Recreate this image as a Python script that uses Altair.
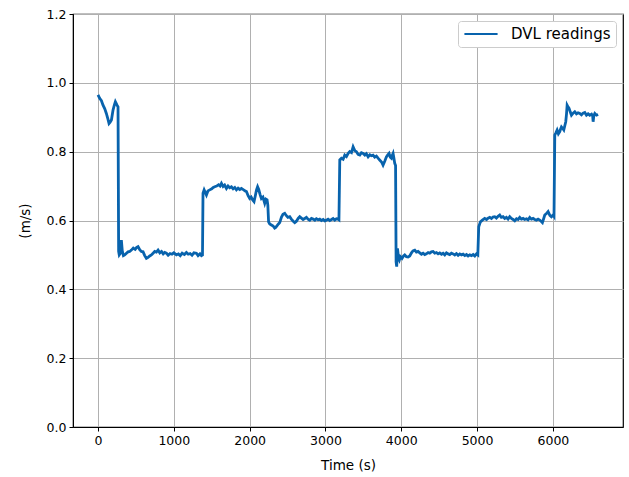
import altair as alt
import pandas as pd

# DVL speed log, split into the constant-speed legs of the run.
# Times in seconds, speeds in m/s.
leg1_t = [0, 22, 45, 66, 88, 110, 130, 145, 160, 177, 198, 215, 229, 251, 264]
leg1_v = [0.965, 0.955, 0.948, 0.935, 0.925, 0.911, 0.895, 0.882, 0.886, 0.892,
          0.921, 0.935, 0.945, 0.935, 0.930]

leg2_t = [272, 280, 295, 308, 320, 335, 352, 375, 396, 418,
          440, 465, 490, 510, 528, 550, 572, 594, 616, 638,
          660, 682, 704, 726, 748, 770, 792, 815, 838, 860,
          880, 902, 925, 950, 975, 1000, 1034, 1060, 1085, 1110,
          1140, 1166, 1190, 1215, 1240, 1265, 1298, 1320, 1345, 1364,
          1378]
leg2_v = [0.510, 0.500, 0.505, 0.543, 0.512, 0.498, 0.500, 0.505, 0.509, 0.510,
          0.514, 0.520, 0.516, 0.522, 0.524, 0.515, 0.510, 0.509, 0.498, 0.490,
          0.493, 0.497, 0.500, 0.505, 0.510, 0.508, 0.514, 0.506, 0.510, 0.503,
          0.507, 0.505, 0.499, 0.504, 0.502, 0.506, 0.500, 0.503, 0.498, 0.505,
          0.501, 0.507, 0.502, 0.504, 0.499, 0.506, 0.505, 0.498, 0.503, 0.498,
          0.500]

leg3_t = [1385, 1400, 1430, 1450, 1474, 1500, 1520, 1540, 1565, 1590,
          1610, 1628, 1650, 1670, 1694, 1715, 1737, 1760, 1782, 1804,
          1826, 1848, 1870, 1892, 1915, 1937, 1958, 1980, 2001, 2020,
          2040, 2058, 2075, 2090, 2105, 2120, 2137, 2155, 2175, 2199,
          2215, 2230, 2240]
leg3_v = [0.679, 0.689, 0.674, 0.686, 0.689, 0.692, 0.696, 0.698, 0.700, 0.704,
          0.700, 0.708, 0.699, 0.703, 0.693, 0.700, 0.695, 0.698, 0.692, 0.696,
          0.689, 0.694, 0.690, 0.693, 0.690, 0.686, 0.684, 0.672, 0.664, 0.668,
          0.660, 0.655, 0.672, 0.688, 0.698, 0.690, 0.676, 0.664, 0.668, 0.650,
          0.662, 0.660, 0.645]

leg4_t = [2250, 2265, 2287, 2310, 2330, 2344, 2365, 2380, 2397, 2420,
          2440, 2463, 2485, 2505, 2529, 2550, 2575, 2595, 2617, 2640,
          2661, 2683, 2705, 2727, 2749, 2770, 2793, 2815, 2837, 2860,
          2880, 2903, 2925, 2947, 2970, 2990, 3013, 3035, 3057, 3080,
          3101, 3123, 3145, 3166, 3178]
leg4_v = [0.596, 0.590, 0.587, 0.584, 0.578, 0.580, 0.586, 0.590, 0.594, 0.610,
          0.618, 0.621, 0.614, 0.609, 0.611, 0.604, 0.598, 0.594, 0.598, 0.606,
          0.611, 0.607, 0.603, 0.606, 0.609, 0.604, 0.601, 0.606, 0.604, 0.601,
          0.605, 0.602, 0.604, 0.600, 0.603, 0.599, 0.601, 0.604, 0.600, 0.603,
          0.606, 0.601, 0.605, 0.604, 0.602]

leg5_t = [3189, 3211, 3233, 3255, 3277, 3300, 3321, 3343, 3365, 3387,
          3409, 3431, 3453, 3475, 3497, 3520, 3540, 3563, 3585, 3606,
          3628, 3650, 3672, 3694, 3715, 3740, 3760, 3782, 3804, 3820,
          3839, 3855, 3870, 3882, 3892, 3904, 3914, 3925]
leg5_v = [0.776, 0.781, 0.778, 0.790, 0.786, 0.795, 0.800, 0.797, 0.814, 0.803,
          0.800, 0.792, 0.790, 0.797, 0.795, 0.790, 0.794, 0.785, 0.791, 0.788,
          0.790, 0.784, 0.787, 0.781, 0.776, 0.770, 0.761, 0.772, 0.785, 0.790,
          0.795, 0.784, 0.781, 0.790, 0.795, 0.780, 0.766, 0.760]

leg6_t = [3932, 3940, 3950, 3965, 3975, 3989, 4010, 4030, 4046, 4068,
          4090, 4112, 4135, 4155, 4178, 4200, 4222, 4244, 4266, 4288,
          4310, 4332, 4355, 4376, 4398, 4420, 4442, 4464, 4486, 4508,
          4530, 4552, 4574, 4596, 4618, 4640, 4662, 4684, 4706, 4728,
          4750, 4772, 4794, 4816, 4838, 4860, 4882, 4904, 4926, 4948,
          4970, 4992, 5010]
leg6_v = [0.480, 0.466, 0.519, 0.490, 0.485, 0.495, 0.490, 0.497, 0.500, 0.495,
          0.494, 0.497, 0.506, 0.512, 0.514, 0.508, 0.510, 0.506, 0.502, 0.505,
          0.501, 0.503, 0.507, 0.505, 0.509, 0.510, 0.505, 0.507, 0.503, 0.506,
          0.502, 0.505, 0.500, 0.506, 0.503, 0.501, 0.505, 0.503, 0.500, 0.504,
          0.499, 0.503, 0.500, 0.502, 0.498, 0.501, 0.497, 0.500, 0.498, 0.501,
          0.497, 0.503, 0.500]

leg7_t = [5022, 5044, 5070, 5101, 5125, 5145, 5167, 5190, 5210, 5233,
          5255, 5277, 5299, 5320, 5343, 5365, 5387, 5409, 5431, 5453,
          5475, 5497, 5520, 5541, 5563, 5585, 5607, 5629, 5651, 5673,
          5695, 5717, 5739, 5761, 5783, 5805, 5827, 5845, 5862, 5878,
          5893, 5915, 5937, 5960, 5981, 6003, 6015]
leg7_v = [0.582, 0.596, 0.601, 0.606, 0.603, 0.607, 0.609, 0.606, 0.610, 0.611,
          0.607, 0.612, 0.616, 0.609, 0.611, 0.606, 0.609, 0.604, 0.611, 0.606,
          0.603, 0.599, 0.605, 0.603, 0.609, 0.604, 0.606, 0.603, 0.605, 0.602,
          0.609, 0.604, 0.606, 0.603, 0.601, 0.604, 0.601, 0.598, 0.594, 0.605,
          0.616, 0.620, 0.626, 0.615, 0.611, 0.616, 0.612]

leg8_t = [6025, 6040, 6056, 6073, 6091, 6102, 6113, 6128, 6144, 6158,
          6170, 6180, 6188, 6200, 6214, 6230, 6245, 6267, 6289, 6311,
          6333, 6355, 6377, 6399, 6421, 6443, 6465, 6487, 6510, 6525,
          6531, 6540, 6553, 6575, 6597]
leg8_v = [0.848, 0.855, 0.863, 0.852, 0.858, 0.866, 0.872, 0.868, 0.863, 0.876,
          0.887, 0.910, 0.935, 0.930, 0.926, 0.915, 0.906, 0.912, 0.916, 0.910,
          0.913, 0.911, 0.907, 0.912, 0.914, 0.906, 0.910, 0.906, 0.909, 0.904,
          0.887, 0.905, 0.911, 0.906, 0.908]

legs = [(leg1_t, leg1_v), (leg2_t, leg2_v), (leg3_t, leg3_v), (leg4_t, leg4_v),
        (leg5_t, leg5_v), (leg6_t, leg6_v), (leg7_t, leg7_v), (leg8_t, leg8_v)]

time_s, speed = [], []
for ts, vs in legs:
    assert len(ts) == len(vs)
    time_s += ts
    speed += vs

series_name = "DVL readings"
line_color = "#0863ad"
x_ticks = [0, 1000, 2000, 3000, 4000, 5000, 6000]
y_ticks = [0.0, 0.2, 0.4, 0.6, 0.8, 1.0, 1.2]

df = pd.DataFrame({"t": time_s, "v": speed, "series": series_name})

font = "DejaVu Sans"

chart = (
    alt.Chart(df)
    .mark_line(strokeWidth=2.8, clip=True)
    .encode(
        x=alt.X(
            "t:Q",
            scale=alt.Scale(domain=[-330, 6925], nice=False, zero=False),
            axis=alt.Axis(values=x_ticks, format="d", title="Time (s)"),
        ),
        y=alt.Y(
            "v:Q",
            scale=alt.Scale(domain=[0, 1.2], nice=False),
            axis=alt.Axis(values=y_ticks, format=".1f", title="(m/s)"),
        ),
        color=alt.Color(
            "series:N",
            scale=alt.Scale(domain=[series_name], range=[line_color]),
            legend=alt.Legend(
                title=None,
                orient="top-right",
                offset=7,
                symbolType="stroke",
                symbolSize=1100,
                symbolStrokeWidth=2,
                symbolOffset=0,
                clipHeight=16,
                labelOffset=12,
                fillColor="white",
                strokeColor="#cccccc",
                cornerRadius=3,
                padding=5,
                labelFontSize=15,
                labelFont=font,
                labelColor="black",
            ),
        ),
    )
    .properties(
        width=550,
        height=413,
        autosize=alt.AutoSizeParams(type="none"),
        padding={"left": 73, "top": 14, "right": 6, "bottom": 50},
    )
    .configure_view(stroke="black", strokeWidth=1.2)
    .configure_axis(
        labelFont=font,
        titleFont=font,
        labelFontSize=12.5,
        titleFontSize=13.5,
        titleFontWeight="normal",
        labelColor="black",
        titleColor="black",
        domainColor="black",
        tickColor="black",
        tickSize=4,
        labelPadding=3,
        gridColor="#b0b0b0",
        gridWidth=1,
        grid=True,
    )
    .configure_axisX(titlePadding=12)
    .configure_axisY(titlePadding=14)
)

chart.save("out.html", embed_options={"renderer": "svg", "actions": False})
